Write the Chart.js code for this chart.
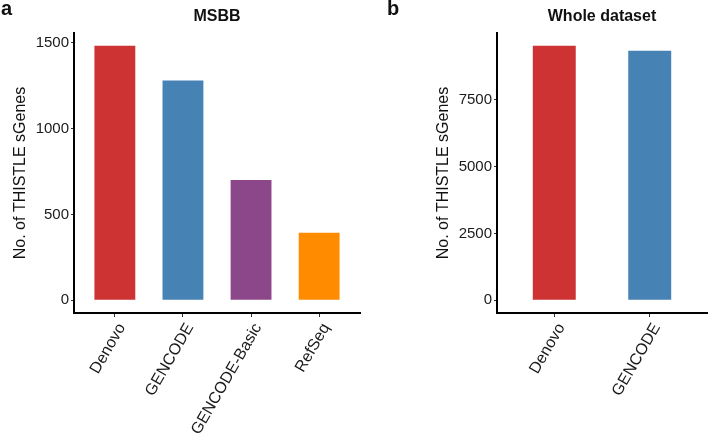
<!DOCTYPE html>
<html><head><meta charset="utf-8">
<script src="https://cdn.jsdelivr.net/npm/chart.js@4"></script>
<style>
html,body{margin:0;padding:0;background:#fff;}
#wrap{position:relative;width:708px;height:434px;overflow:hidden;}
#ca{position:absolute;left:0;top:0;}
#cb{position:absolute;left:362px;top:0;}
</style></head><body>
<div id="wrap">
<canvas id="ca" width="362" height="434"></canvas>
<canvas id="cb" width="346" height="434"></canvas>
</div>
<script>
const categoriesA = ['Denovo', 'GENCODE', 'GENCODE-Basic', 'RefSeq'];
const valuesA = [1483, 1280, 701, 394];
const colorsA = ['#CD3333', '#4682B4', '#8B4789', '#FF8C00'];
const yTicksA = [0, 500, 1000, 1500];

const categoriesB = ['Denovo', 'GENCODE'];
const valuesB = [9515, 9328];
const colorsB = ['#CD3333', '#4682B4'];
const yTicksB = [0, 2500, 5000, 7500];

const yTitle = 'No. of THISTLE sGenes';
const FONT = "'Liberation Sans', Arial, sans-serif";

const panelText = {
  id: 'panelText',
  afterDraw(chart, args, o) {
    const ctx = chart.ctx, ca = chart.chartArea;
    ctx.save();
    ctx.fillStyle = '#111';
    ctx.font = 'bold 16px ' + FONT;
    ctx.textAlign = 'center';
    ctx.textBaseline = 'middle';
    ctx.fillText(o.title, (ca.left + ca.right) / 2, 17);
    ctx.font = 'bold 20px ' + FONT;
    ctx.textAlign = 'left';
    ctx.textBaseline = 'alphabetic';
    ctx.fillText(o.letter, o.letterX, 15);
    ctx.restore();
  }
};

function makeChart(id, cats, vals, cols, ticks, cfg) {
  const maxV = Math.max(...vals);
  return new Chart(document.getElementById(id), {
    type: 'bar',
    data: {
      labels: cats,
      datasets: [{ data: vals, backgroundColor: cols, borderWidth: 0,
        barPercentage: cfg.barPct, categoryPercentage: 1 }]
    },
    plugins: [panelText],
    options: {
      responsive: false, animation: false, devicePixelRatio: 1,
      layout: { padding: { top: 33, right: cfg.padR, left: 0, bottom: 0 } },
      plugins: {
        legend: { display: false }, tooltip: { enabled: false },
        panelText: { title: cfg.title, letter: cfg.letter, letterX: cfg.letterX }
      },
      scales: {
        x: {
          type: 'category', offset: false,
          afterBuildTicks: s => { s._startValue = -0.6; s._valueRange = cats.length - 1 + 1.2; },
          afterFit: s => { s.height = 121; },
          border: { display: true, color: '#000', width: 2 },
          grid: { display: true, offset: false, drawOnChartArea: false, drawTicks: true, tickLength: 4, color: '#333' },
          ticks: { font: { family: FONT, size: 16 }, color: '#1a1a1a', minRotation: 60, maxRotation: 60,
            padding: 3, autoSkip: false, labelOffset: 7 }
        },
        y: {
          min: -maxV * 0.05, max: maxV * 1.05,
          afterBuildTicks: s => { s.ticks = ticks.map(v => ({ value: v })); },
          afterFit: s => { s.width = cfg.yWidth; },
          border: { display: true, color: '#000', width: 2 },
          grid: { display: true, drawOnChartArea: false, drawTicks: true, tickLength: 3, color: '#333' },
          ticks: { font: { family: FONT, size: 15 }, color: '#1a1a1a', padding: 2, callback: v => String(v) },
          title: { display: true, text: yTitle, font: { family: FONT, size: 16 }, color: '#111', padding: { top: cfg.titlePad, bottom: 0 } }
        }
      }
    }
  });
}

makeChart('ca', categoriesA, valuesA, colorsA, yTicksA,
  { yWidth: 74, padR: 2, barPct: 0.6, titlePad: 11, title: 'MSBB', letter: 'a', letterX: 1 });
makeChart('cb', categoriesB, valuesB, colorsB, yTicksB,
  { yWidth: 135, padR: 1, barPct: 0.45, titlePad: 72, title: 'Whole dataset', letter: 'b', letterX: 25 });
</script>
</body></html>
